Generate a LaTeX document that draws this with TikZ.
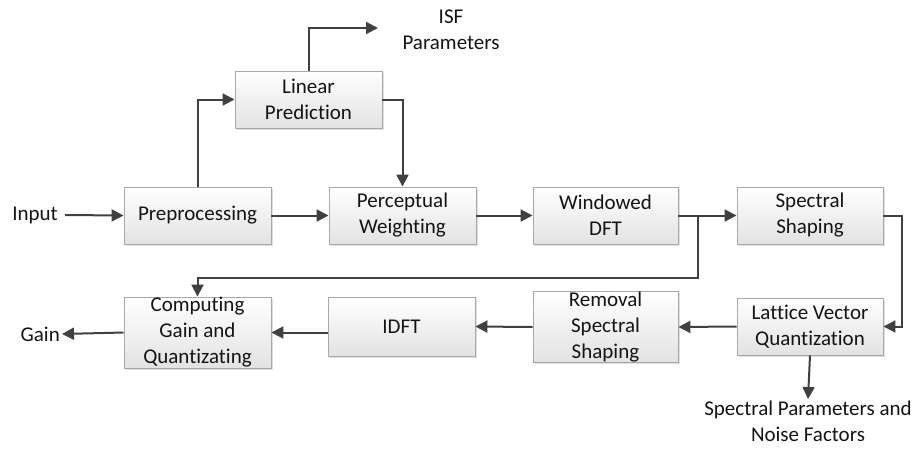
\documentclass[tikz,border=0pt]{standalone}
\usepackage{fontspec}
\setmainfont{Carlito}[Ligatures=NoCommon,RawFeature={-liga;-clig;-dlig}]
\usetikzlibrary{arrows.meta,shadows}
\definecolor{boxline}{HTML}{A8A8A8}
\definecolor{boxbot}{HTML}{E2E2E2}
\definecolor{wire}{HTML}{404040}
\definecolor{txt}{HTML}{141414}
\begin{document}
\begin{tikzpicture}[x=1pt,y=-1pt,
  font=\fontsize{21}{26}\selectfont, text=txt,
  blk/.style={draw=boxline, line width=0.9pt, top color=white, bottom color=boxbot,
    align=center, inner sep=0pt, minimum width=147pt, minimum height=57pt,
    drop shadow={shadow xshift=1.5pt, shadow yshift=-1.5pt, opacity=0.25, fill=gray}},
  lbl/.style={align=center, inner sep=2pt},
  arr/.style={draw=wire, line width=2pt, -{Triangle[length=12pt,width=12pt]}},
  ln/.style={draw=wire, line width=2pt}]
\useasboundingbox (0,0) rectangle (919,451);
% blocks
\node[blk] (pre) at (197.5,215.5) {Preprocessing};
\node[blk] (lp) at (308.5,99.5) {Linear\\Prediction};
\node[blk] (pw) at (402.5,215.5) {Perceptual\\Weighting};
\node[blk, minimum width=145pt] (wd) at (605.5,215.5) {Windowed\\DFT};
\node[blk, minimum width=146pt] (ss) at (810,215.5) {Spectral\\Shaping};
\node[blk, minimum height=71pt] (cg) at (197.5,332.5) {Computing\\Gain and\\Quantizating};
\node[blk, minimum height=59pt] (idft) at (401.5,326.5) {IDFT};
\node[blk, minimum width=145pt, minimum height=68pt] (rss) at (605.5,327) {Removal\\Spectral\\Shaping};
\node[blk, minimum width=146pt] (lvq) at (810,326.5) {Lattice Vector\\Quantization};
% labels
\node[lbl, anchor=east] (in) at (60,215) {Input};
\node[lbl, anchor=east] (gain) at (62,334) {Gain};
\node[lbl] (isf) at (451,30) {ISF\\Parameters};
\node[lbl, anchor=north] (spn) at (808,399) {Spectral Parameters and\\Noise Factors};
% helper coordinates
\coordinate (isfend) at (378,28);
\coordinate (j) at (698,215.5);
\coordinate (ret) at (698,278);
\coordinate (rc) at (902,215.5);
% connectors
\draw[arr] (in.east -| 65,0) -- (pre.west);
\draw[arr] (pre.north) |- (lp.west);
\draw[arr] (lp.east) -| (pw.north);
\draw[arr] (lp.north) |- (isfend);
\draw[arr] (pre.east) -- (pw.west);
\draw[arr] (pw.east) -- (wd.west);
\draw[arr] (wd.east) -- (ss.west);
\draw[arr] (j) -- (ret) -| (cg.north);
\draw[arr] (ss.east) -- (rc) |- (lvq.east);
\draw[arr] (lvq.west) -- (rss.east);
\draw[arr] (rss.west) -- (idft.east);
\draw[arr] (idft.west |- cg.east) -- (cg.east);
\draw[arr] (cg.west) -- (gain.east);
\draw[arr] (lvq.south) -- (spn.north);
\end{tikzpicture}
\end{document}
